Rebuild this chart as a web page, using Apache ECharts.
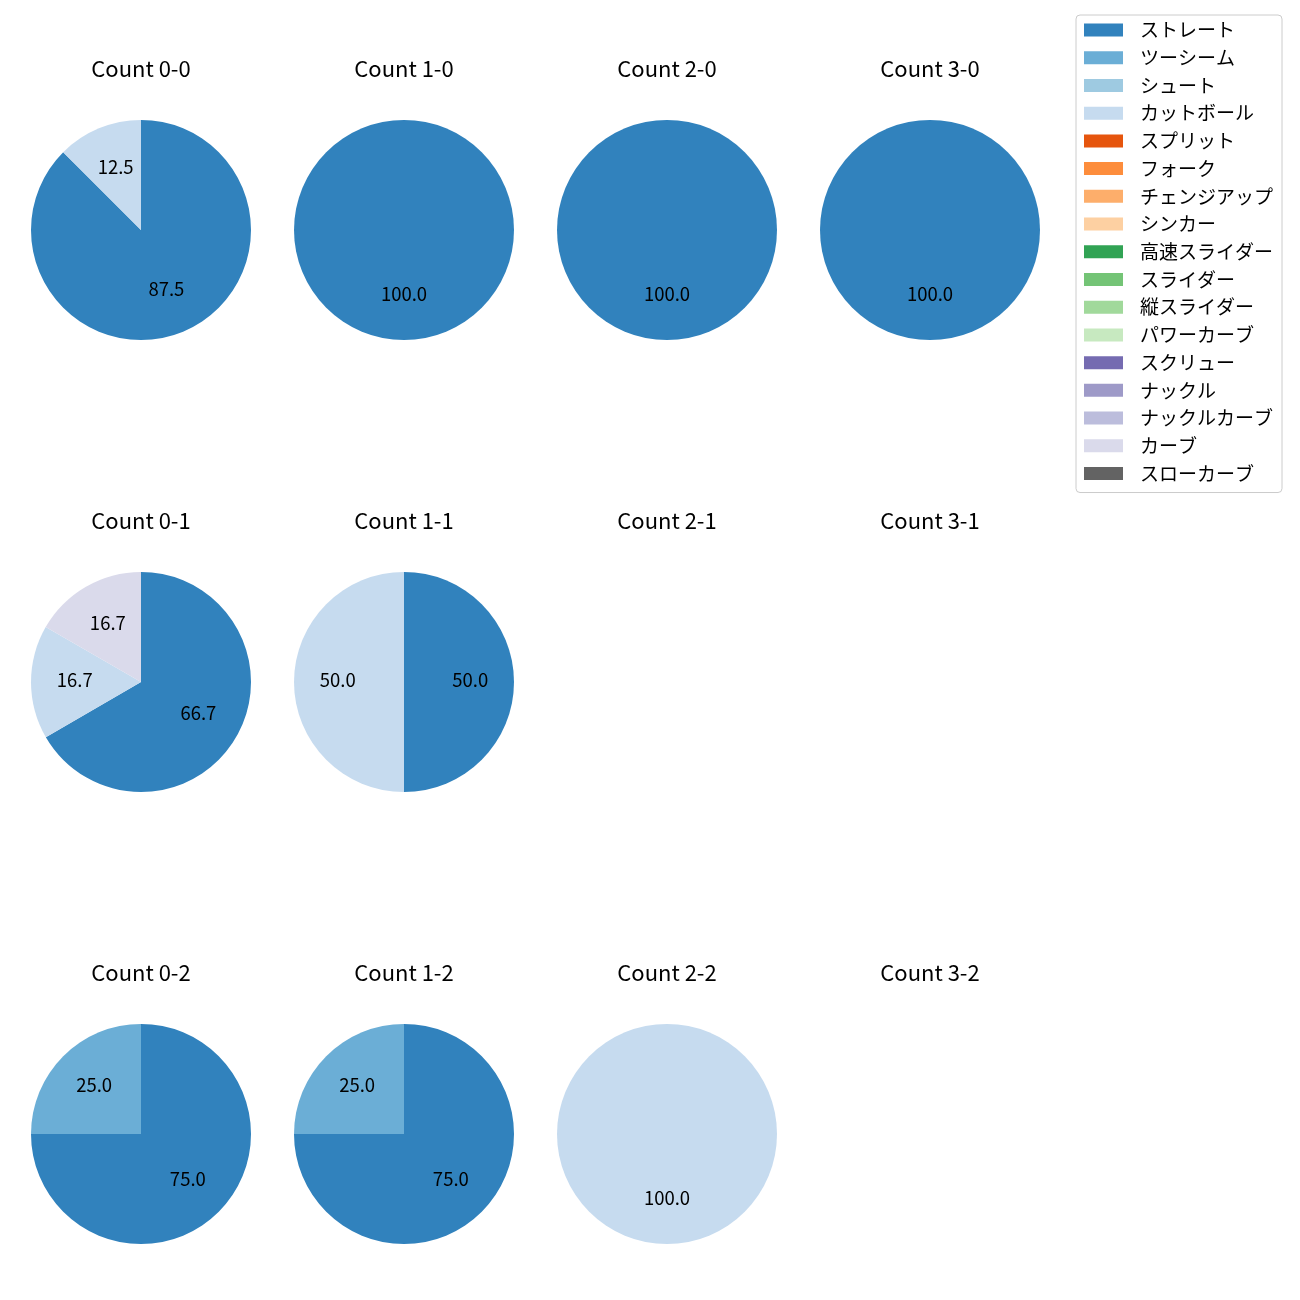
<!DOCTYPE html>
<html><head><meta charset="utf-8">
<script src="https://cdn.jsdelivr.net/npm/echarts@6/dist/echarts.min.js"></script>
<style>html,body{margin:0;padding:0;background:#fff}#c{width:1300px;height:1300px}</style>
</head><body><div id="c"></div>
<script>
// ---- data ----
const pitchTypes = ['ストレート','ツーシーム','シュート','カットボール','スプリット','フォーク','チェンジアップ','シンカー','高速スライダー','スライダー','縦スライダー','パワーカーブ','スクリュー','ナックル','ナックルカーブ','カーブ','スローカーブ'];
const pitchColors = ['#3182bd','#6baed6','#9ecae1','#c6dbef','#e6550d','#fd8d3c','#fdae6b','#fdd0a2','#31a354','#74c476','#a1d99b','#c7e9c0','#756bb1','#9e9ac8','#bcbddc','#dadaeb','#636363'];
const countLabels = ['0-0','1-0','2-0','3-0','0-1','1-1','2-1','3-1','0-2','1-2','2-2','3-2'];
const straightShare = [87.5, 100, 100, 100, 66.7, 50, 0, 0, 75, 75, 0, 0];
const twoSeamShare  = [0, 0, 0, 0, 0, 0, 0, 0, 25, 25, 0, 0];
const cutterShare   = [12.5, 0, 0, 0, 16.7, 50, 0, 0, 0, 0, 100, 0];
const curveShare    = [0, 0, 0, 0, 16.7, 0, 0, 0, 0, 0, 0, 0];

// ---- build ----
const shares = {'ストレート': straightShare, 'ツーシーム': twoSeamShare, 'カットボール': cutterShare, 'カーブ': curveShare};
const colorOf = {};
pitchTypes.forEach((p, i) => colorOf[p] = pitchColors[i]);
const FONT = "'Noto Sans CJK JP', 'Noto Sans', sans-serif";
const colX = [141, 404, 667, 930];
const rowY = [230, 682, 1134];
const titleY = [69, 521, 973];
const R = 110;

const titles = [];
const series = [];
series.push({
  type: 'pie', name: 'legend-proxy', radius: 0, center: [-200, -200], silent: true,
  showEmptyCircle: false, label: {show: false}, labelLine: {show: false}, animation: false,
  data: pitchTypes.map(p => ({name: p, value: 0, itemStyle: {color: colorOf[p]}}))
});

countLabels.forEach((c, k) => {
  const col = k % 4, row = Math.floor(k / 4);
  titles.push({
    text: 'Count ' + c, left: colX[col], top: titleY[row], textAlign: 'center', textVerticalAlign: 'middle',
    padding: 0, textStyle: {fontSize: 22, fontWeight: 'normal', color: '#000', fontFamily: FONT}
  });
  const data = pitchTypes.filter(p => shares[p] && shares[p][k] > 0)
    .map(p => ({name: p, value: shares[p][k], itemStyle: {color: colorOf[p]}}));
  series.push({
    type: 'pie', center: [colX[col], rowY[row]], radius: R, startAngle: 90, clockwise: true,
    data: data, label: {show: false}, labelLine: {show: false}, itemStyle: {borderWidth: 0},
    emphasis: {disabled: true}, showEmptyCircle: false, animation: false, silent: true
  });
  series.push({
    type: 'pie', center: [colX[col], rowY[row]], radius: [R * 0.15, R], startAngle: 90, clockwise: true,
    data: data.map(d => ({name: d.name, value: d.value})),
    itemStyle: {color: 'rgba(0,0,0,0)', borderWidth: 0},
    label: {show: true, position: 'inside', formatter: p => p.value.toFixed(1), fontSize: 18.5, color: '#000',
            fontFamily: FONT},
    labelLayout: {dy: -2},
    labelLine: {show: false}, emphasis: {disabled: true}, showEmptyCircle: false, animation: false, silent: true
  });
});

const chart = echarts.init(document.getElementById('c'));
chart.setOption({
  backgroundColor: '#fff',
  animation: false,
  title: titles,
  legend: {
    orient: 'vertical', left: 1076, top: 15, icon: 'rect', itemWidth: 39, itemHeight: 13, itemGap: 7.72,
    padding: [5, 9, 9, 8], borderColor: '#cccccc', borderWidth: 1, borderRadius: 4, selectedMode: false,
    textStyle: {fontSize: 19, fontFamily: FONT, color: '#000', lineHeight: 20, padding: [0, 0, 0, 12]},
    data: pitchTypes
  },
  series: series
});
</script></body></html>
